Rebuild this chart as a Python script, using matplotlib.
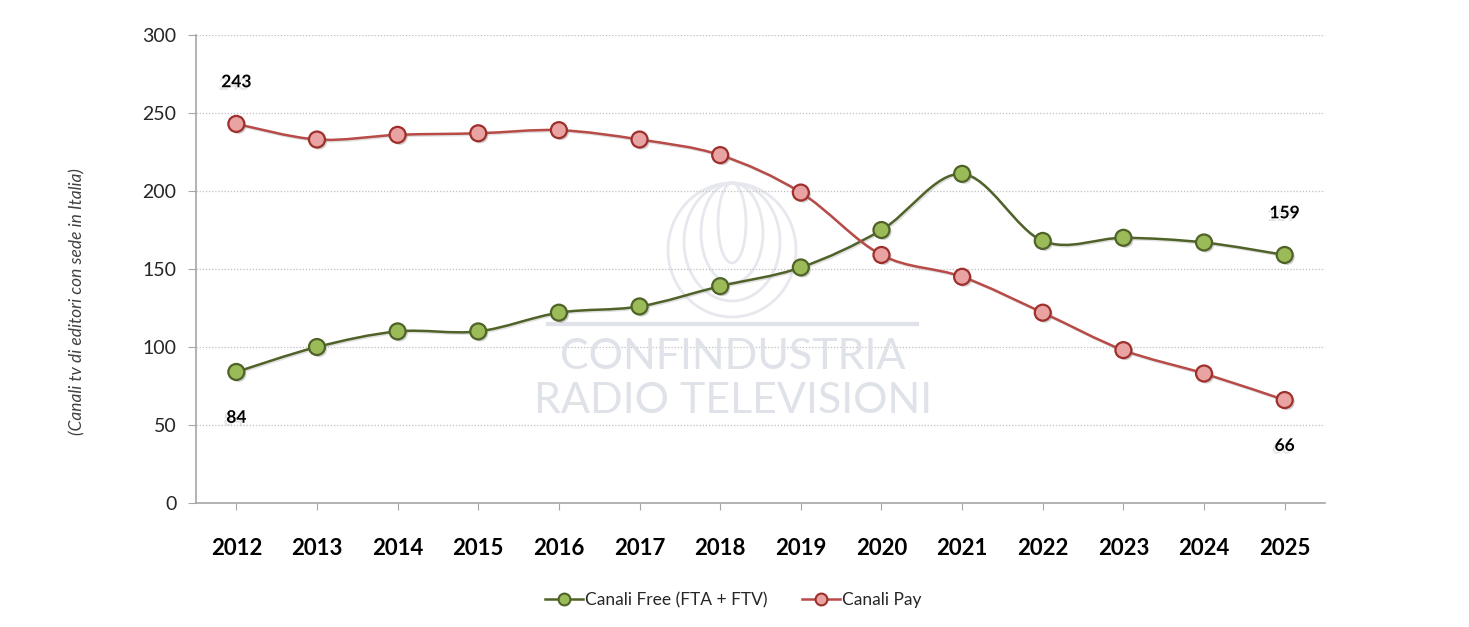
import matplotlib
matplotlib.use("Agg")
import matplotlib.pyplot as plt
import matplotlib.patheffects as pe
from matplotlib.lines import Line2D
from matplotlib.path import Path
from matplotlib.patches import PathPatch, Ellipse
import numpy as np

years = ["2012", "2013", "2014", "2015", "2016", "2017", "2018",
         "2019", "2020", "2021", "2022", "2023", "2024", "2025"]
free = [84, 100, 110, 110, 122, 126, 139, 151, 175, 211, 168, 170, 167, 159]
pay = [243, 233, 236, 237, 239, 233, 223, 199, 159, 145, 122, 98, 83, 66]
labels_free = {0: "below", 13: "above"}
labels_pay = {0: "above", 13: "below"}

FONT = "Lato"
plt.rcParams["font.family"] = [FONT, "DejaVu Sans"]

green_line = "#4F6228"
green_face = "#9BBB59"
red_line = "#B84A47"
red_edge = "#9E2F2B"
red_face = "#E9A3A2"


def smooth_path(xs, ys):
    # Excel-style smoothed line as cubic Bezier segments through the points
    pts = np.column_stack([xs, ys]).astype(float)
    n = len(pts)
    verts = [pts[0]]
    codes = [Path.MOVETO]
    for i in range(n - 1):
        p_prev = pts[i - 1] if i > 0 else pts[i]
        p_next2 = pts[i + 2] if i + 2 < n else pts[i + 1]
        c1 = pts[i] + (pts[i + 1] - p_prev) / 6
        c2 = pts[i + 1] - (p_next2 - pts[i]) / 6
        verts += [c1, c2, pts[i + 1]]
        codes += [Path.CURVE4] * 3
    return Path(verts, codes)


W, H = 1469, 627
fig = plt.figure(figsize=(W / 100, H / 100), dpi=100)
ax = fig.add_axes([196 / W, 1 - 503 / H, 1129 / W, 468 / H])
ax.patch.set_alpha(0)

x = np.arange(len(years))

# watermark (logo + name)
wm = "#DFE2E9"
fig.text(733 / W, 1 - 357 / H, "CONFINDUSTRIA", fontsize=31, color=wm,
         ha="center", va="center", fontweight="normal", zorder=0)
fig.text(733 / W, 1 - 401 / H, "RADIO TELEVISIONI", fontsize=31, color=wm,
         ha="center", va="center", fontweight="normal", zorder=0)
fig.add_artist(Line2D([548 / W, 917 / W], [1 - 324 / H, 1 - 324 / H],
                      color=wm, lw=3, zorder=0))
for w, h in [(128, 134), (96, 118), (62, 100), (28, 80)]:
    fig.add_artist(Ellipse((732 / W, 1 - (183 + h / 2) / H), w / W, h / H,
                           facecolor="none", edgecolor="#E6E8EE", lw=2.0, zorder=0))

shadow = [pe.SimplePatchShadow(offset=(1.5, -1.5), shadow_rgbFace="#777777", alpha=0.35),
          pe.Normal()]
line_shadow = [pe.SimpleLineShadow(offset=(1, -1), shadow_color="#999999", alpha=0.3),
               pe.Normal()]

for vals, lc, ec, fc in [(free, green_line, green_line, green_face),
                         (pay, red_line, red_edge, red_face)]:
    patch = PathPatch(smooth_path(x, vals), facecolor="none", edgecolor=lc,
                      lw=1.8, zorder=3, path_effects=line_shadow)
    ax.add_patch(patch)
    ax.plot(x, vals, linestyle="none", marker="o", markersize=11.5,
            markerfacecolor=fc, markeredgecolor=ec, markeredgewidth=1.6,
            zorder=4, path_effects=shadow)

text_shadow = [pe.SimplePatchShadow(offset=(-2, -2), shadow_rgbFace="#999999", alpha=0.25),
               pe.Normal()]
for vals, lab in [(free, labels_free), (pay, labels_pay)]:
    for i, where in lab.items():
        dy = 30 if where == "above" else -33
        ax.annotate(f"{vals[i]}", (x[i], vals[i]), xytext=(0, dy),
                    textcoords="offset points", ha="center", va="center",
                    fontsize=12.5, fontweight="bold", color="black",
                    path_effects=text_shadow, zorder=5)

ax.set_xlim(-0.5, len(years) - 0.5)
ax.set_ylim(0, 300)
ax.set_yticks(np.arange(0, 301, 50))
ax.set_xticks(x)
ax.set_xticklabels(years, fontsize=16, fontweight="bold")
ax.tick_params(axis="x", length=5, color="#A6A6A6", pad=20)
ax.tick_params(axis="y", length=6, color="#A6A6A6", labelsize=14, labelcolor="#262626", pad=8)

ax.grid(axis="y", linestyle=(0, (1, 1.5)), color="#BFBFBF", lw=0.9)
ax.set_axisbelow(True)
for s in ["top", "right"]:
    ax.spines[s].set_visible(False)
for s in ["left", "bottom"]:
    ax.spines[s].set_color("#A6A6A6")
    ax.spines[s].set_linewidth(1.2)

ax.set_ylabel("(Canali tv di editori con sede in Italia)", fontsize=12.5,
              fontstyle="italic", color="#404040")
ax.yaxis.set_label_coords((85 - 196) / 1129, (503 - 302) / 468)

handles = [
    Line2D([], [], color=green_line, lw=1.8, marker="o", markersize=8.5,
           markerfacecolor=green_face, markeredgecolor=green_line, markeredgewidth=1.5),
    Line2D([], [], color=red_line, lw=1.8, marker="o", markersize=8.5,
           markerfacecolor=red_face, markeredgecolor=red_edge, markeredgewidth=1.5),
]
fig.legend(handles, ["Canali Free (FTA + FTV)", "Canali Pay"], loc="center",
           bbox_to_anchor=(733 / W, 1 - 600 / H), ncol=2, frameon=False,
           fontsize=12.5, handlelength=2.2, handletextpad=0.1, columnspacing=2.0,
           labelcolor="#262626")

fig.savefig("out.png", dpi=100)
